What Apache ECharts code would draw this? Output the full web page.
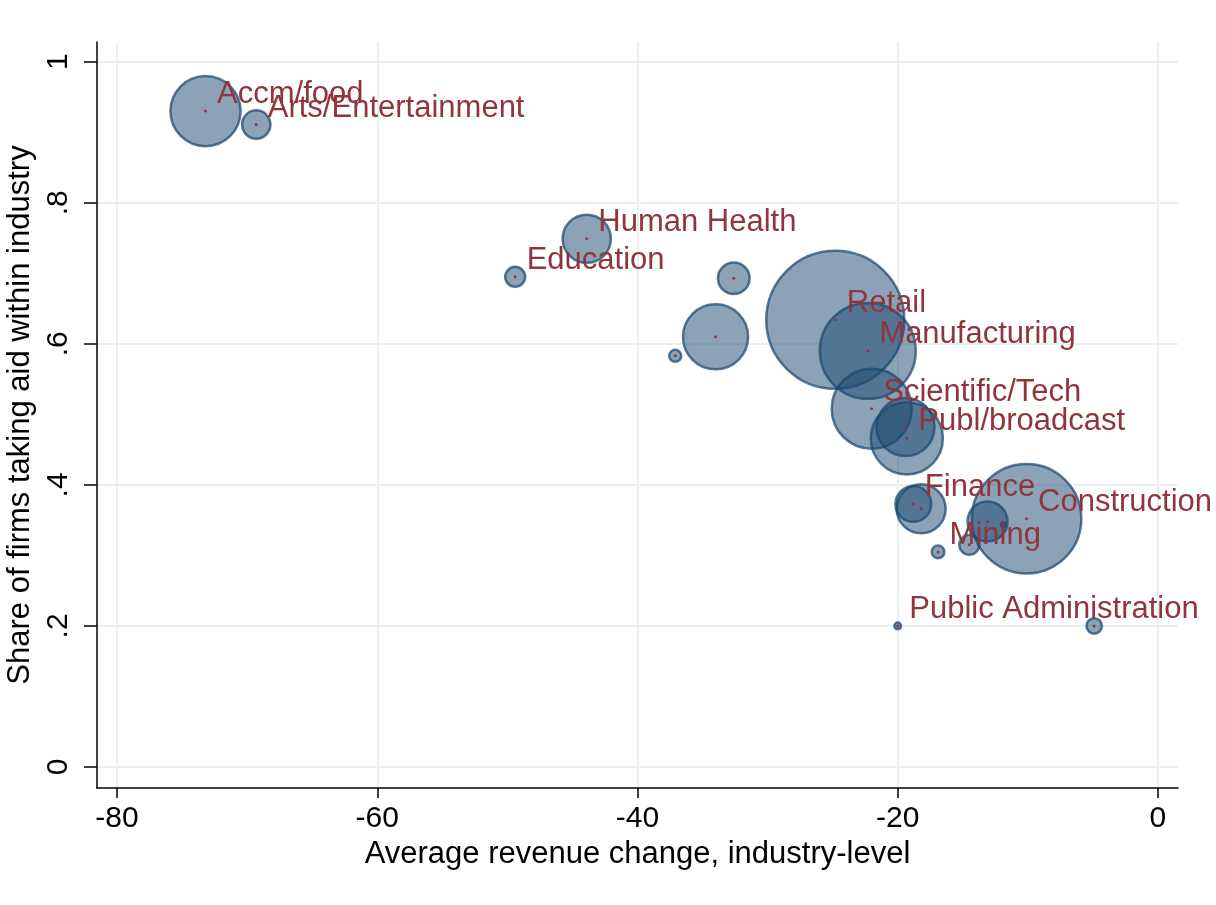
<!DOCTYPE html>
<html>
<head>
<meta charset="utf-8">
<script src="https://cdn.jsdelivr.net/npm/echarts@6/dist/echarts.min.js"></script>
<style>
  html, body { margin: 0; padding: 0; background: #fff; }
  #chart { width: 1216px; height: 905px; }
</style>
</head>
<body>
<div id="chart"></div>
<script>
// industry labels (empty = unlabeled)
var industries = ['Accm/food', 'Arts/Entertainment', 'Human Health', 'Education', '', '', '',
    'Retail', 'Manufacturing', 'Scientific/Tech', '', 'Publ/broadcast', 'Finance', '',
    'Construction', '', '', '', 'Mining', 'Public Administration', ''];
// average revenue change
var revChange = [-73.2, -69.3, -43.9, -49.4, -32.6, -34.0, -37.1,
    -24.8, -22.3, -22.0, -19.4, -19.3, -18.8, -18.2,
    -10.1, -13.1, -11.9, -14.5, -16.9, -20.0, -4.9];
// share of firms taking aid
var aidShare = [0.930, 0.911, 0.749, 0.695, 0.693, 0.610, 0.583,
    0.634, 0.590, 0.508, 0.482, 0.466, 0.373, 0.366,
    0.352, 0.348, 0.344, 0.315, 0.305, 0.200, 0.200];
// industry weight (bubble area)
var weight = [12.3, 2.0, 5.8, 1.0, 2.5, 10.6, 0.36,
    47.6, 23.0, 16.0, 8.4, 13.0, 3.2, 6.0,
    30.0, 4.0, 0.04, 1.0, 0.4, 0.11, 0.6];

var xTicks = [-80, -60, -40, -20, 0];
var yTicks = [0, 0.2, 0.4, 0.6, 0.8, 1];

var bubbleData = [];
var centerData = [];
for (var i = 0; i < industries.length; i++) {
    bubbleData.push([revChange[i], aidShare[i], weight[i]]);
    centerData.push({name: industries[i], value: [revChange[i], aidShare[i]]});
}

var textFont = 'Liberation Sans';

var chart = echarts.init(document.getElementById('chart'));
chart.setOption({
    animation: false,
    backgroundColor: '#fff',
    grid: {
        left: 97,
        right: 38,
        top: 42,
        bottom: 117,
        containLabel: false,
        outerBoundsMode: 'none'
    },
    xAxis: {
        type: 'value',
        min: -81.54,
        max: 1.54,
        name: 'Average revenue change, industry-level',
        nameLocation: 'middle',
        nameGap: 50,
        nameTextStyle: {fontFamily: textFont, fontSize: 31, color: '#000'},
        axisLine: {show: true, onZero: false, lineStyle: {color: '#000', width: 1.5}},
        axisTick: {show: true, length: 10, customValues: xTicks, lineStyle: {color: '#000', width: 1.5}},
        axisLabel: {
            customValues: xTicks,
            margin: 16,
            fontFamily: textFont,
            fontSize: 30,
            color: '#000'
        },
        splitLine: {show: true, lineStyle: {color: '#e9f0f2', width: 2}}
    },
    yAxis: {
        type: 'value',
        min: -0.0298,
        max: 1.028,
        name: 'Share of firms taking aid within industry',
        nameLocation: 'middle',
        nameGap: 57,
        nameTextStyle: {fontFamily: textFont, fontSize: 31, color: '#000'},
        axisLine: {show: true, onZero: false, lineStyle: {color: '#000', width: 1.5}},
        axisTick: {show: true, length: 13, customValues: yTicks, lineStyle: {color: '#000', width: 1.5}},
        axisLabel: {
            customValues: yTicks,
            rotate: 90,
            margin: 23,
            fontFamily: textFont,
            fontSize: 30,
            color: '#000',
            formatter: function (v) {
                if (v === 0) return '0';
                if (v === 1) return '1';
                return String(Math.round(v * 10) / 10).replace('0.', '.');
            }
        },
        splitLine: {show: true, lineStyle: {color: '#e9f0f2', width: 2}}
    },
    series: [
        {
            name: 'bubbles',
            type: 'scatter',
            data: bubbleData,
            symbolSize: function (val) {
                return 20 * Math.sqrt(val[2]);
            },
            itemStyle: {
                color: 'rgba(26,71,111,0.5)',
                borderColor: 'rgba(26,71,111,0.72)',
                borderWidth: 2.5,
                opacity: 1
            },
            z: 2
        },
        {
            name: 'centers',
            type: 'scatter',
            data: centerData,
            symbolSize: 3,
            itemStyle: {color: '#90353b', opacity: 1},
            label: {
                show: true,
                position: [13, -15],
                align: 'left',
                verticalAlign: 'middle',
                formatter: '{b}',
                fontFamily: textFont,
                fontSize: 31,
                color: '#90353b'
            },
            labelLayout: {hideOverlap: false},
            z: 3
        }
    ]
});
</script>
</body>
</html>
